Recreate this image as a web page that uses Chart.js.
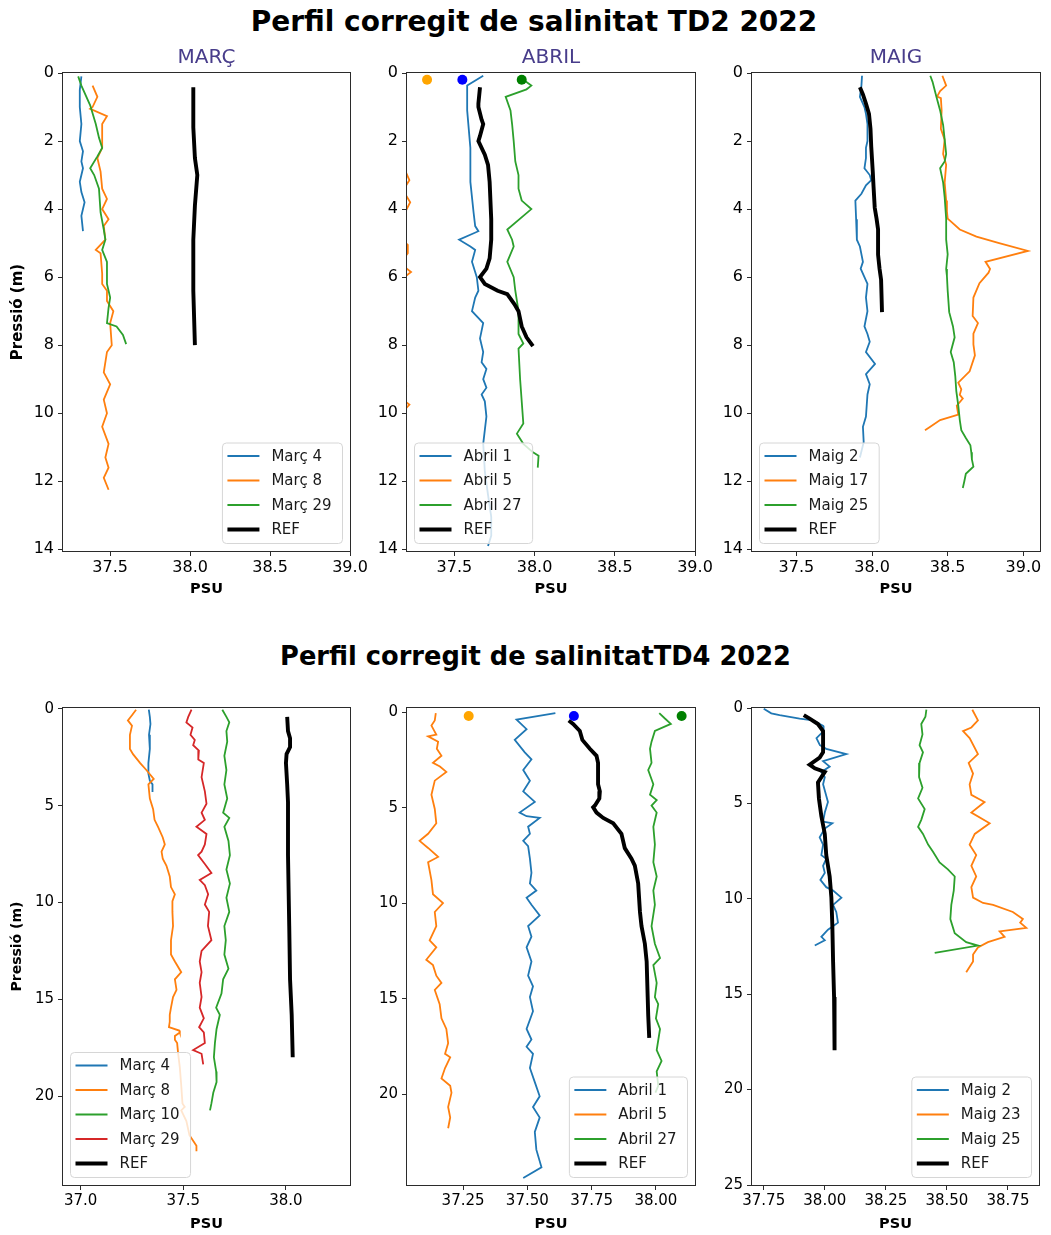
<!DOCTYPE html>
<html>
<head>
<meta charset="utf-8">
<title>Perfil corregit de salinitat 2022</title>
<script src="https://cdn.jsdelivr.net/npm/chart.js@4.4.1/dist/chart.umd.min.js"></script>
<style>
  html, body { margin: 0; padding: 0; background: #fff; }
  body { width: 1051px; height: 1235px; position: relative; overflow: hidden; font-family: "DejaVu Sans", sans-serif; }
  .sup { position: absolute; transform: translateX(-50%); font-weight: bold; color: #000; white-space: nowrap; line-height: normal; }
  canvas { position: absolute; }
</style>
</head>
<body>
<div class="sup" style="left:534px; top:5px; font-size:28px;">Perfil corregit de salinitat TD2 2022</div>
<div class="sup" style="left:535.5px; top:641px; font-size:25.7px;">Perfil corregit de salinitatTD4 2022</div>

<canvas id="p1"></canvas>
<canvas id="p2"></canvas>
<canvas id="p3"></canvas>
<canvas id="p4"></canvas>
<canvas id="p5"></canvas>
<canvas id="p6"></canvas>

<script>
// ---------- tick labels ----------
const td2DepthTicks = [0, 2, 4, 6, 8, 10, 12, 14];
const td2PsuTicks = [37.5, 38.0, 38.5, 39.0];
const td4DepthTicks = [0, 5, 10, 15, 20];
const td4DepthTicksMaig = [0, 5, 10, 15, 20, 25];
const td4MarcPsuTicks = [37.0, 37.5, 38.0];
const td4AbrilPsuTicks = [37.25, 37.50, 37.75, 38.00];
const td4MaigPsuTicks = [37.75, 38.00, 38.25, 38.50, 38.75];

// ---------- series labels ----------
const monthTitles = ['MARÇ', 'ABRIL', 'MAIG'];
const td2MarcLabels = ['Març 4', 'Març 8', 'Març 29', 'REF'];
const td2AbrilLabels = ['Abril 1', 'Abril 5', 'Abril 27', 'REF'];
const td2MaigLabels = ['Maig 2', 'Maig 17', 'Maig 25', 'REF'];
const td4MarcLabels = ['Març 4', 'Març 8', 'Març 10', 'Març 29', 'REF'];
const td4AbrilLabels = ['Abril 1', 'Abril 5', 'Abril 27', 'REF'];
const td4MaigLabels = ['Maig 2', 'Maig 23', 'Maig 25', 'REF'];

// ---------- profiles: [salinity (PSU), pressure (m)] ----------
// TD2 - Març
const td2Marc4 = [[37.32,0.1],[37.31,0.5],[37.31,1.0],[37.32,1.5],[37.31,2.0],[37.33,2.3],[37.32,2.6],[37.33,2.8],[37.31,3.2],[37.32,3.5],[37.34,3.8],[37.32,4.2],[37.33,4.65]];
const td2Marc8 = [[37.39,0.37],[37.42,0.7],[37.39,1.0],[37.375,1.05],[37.48,1.27],[37.45,1.5],[37.45,2.2],[37.42,2.5],[37.44,2.9],[37.45,3.4],[37.48,3.7],[37.45,4.0],[37.49,4.3],[37.46,4.5],[37.47,4.9],[37.41,5.2],[37.44,5.3],[37.45,5.9],[37.45,6.2],[37.48,6.4],[37.48,6.7],[37.52,7.0],[37.5,7.35],[37.51,8.0],[37.48,8.2],[37.46,8.8],[37.5,9.15],[37.46,9.6],[37.48,10.0],[37.45,10.4],[37.49,10.9],[37.47,11.3],[37.49,11.6],[37.46,11.9],[37.49,12.25]];
const td2Marc29 = [[37.30,0.1],[37.32,0.37],[37.375,0.95],[37.41,1.5],[37.43,1.9],[37.45,2.2],[37.42,2.45],[37.375,2.8],[37.40,3.0],[37.43,3.4],[37.44,4.1],[37.46,4.6],[37.47,4.9],[37.45,5.2],[37.48,5.55],[37.48,6.2],[37.5,6.6],[37.49,6.9],[37.48,7.35],[37.54,7.45],[37.58,7.7],[37.6,7.97]];
const td2MarcRef = [[38.02,0.42],[38.02,1.6],[38.03,2.5],[38.045,3.0],[38.03,3.9],[38.02,4.9],[38.02,6.4],[38.03,8.0]];

// TD2 - Abril
const td2Abril1 = [[37.68,0.08],[37.58,0.37],[37.58,1.1],[37.60,2.2],[37.60,3.2],[37.62,4.1],[37.63,4.5],[37.65,4.65],[37.53,4.9],[37.60,5.1],[37.63,5.2],[37.61,5.55],[37.64,6.0],[37.65,6.4],[37.63,6.6],[37.61,7.0],[37.68,7.35],[37.66,7.8],[37.68,8.2],[37.67,8.5],[37.70,8.7],[37.68,9.0],[37.70,9.25],[37.67,9.45],[37.69,9.65],[37.70,10.1],[37.69,10.5],[37.68,10.9],[37.69,11.7],[37.71,12.4],[37.73,13.05],[37.73,13.6],[37.71,13.9]];
const td2Abril5 = [[37.2,0.1],[37.15,0.6],[37.12,1.5],[37.16,2.5],[37.22,3.15],[37.18,3.45],[37.225,3.8],[37.17,4.3],[37.15,4.8],[37.21,5.05],[37.21,5.3],[37.16,5.6],[37.23,5.85],[37.16,6.1],[37.12,7.0],[37.15,8.0],[37.18,8.6],[37.2,9.2],[37.15,9.5],[37.22,9.75],[37.17,10.0]];
const td2Abril27 = [[37.93,0.2],[37.98,0.37],[37.95,0.48],[37.82,0.7],[37.85,1.1],[37.86,1.5],[37.87,2.0],[37.88,2.6],[37.9,3.0],[37.9,3.4],[37.92,3.75],[37.98,4.0],[37.83,4.6],[37.86,4.9],[37.87,5.1],[37.83,5.55],[37.87,6.0],[37.88,6.4],[37.9,7.0],[37.9,7.67],[37.93,7.95],[37.9,8.1],[37.91,9.0],[37.93,10.3],[37.89,10.6],[37.93,10.9],[37.99,11.15],[38.025,11.25],[38.02,11.6]];
const td2AbrilRef = [[37.66,0.42],[37.65,0.9],[37.65,1.0],[37.67,1.37],[37.68,1.5],[37.66,1.85],[37.65,2.0],[37.69,2.4],[37.71,2.7],[37.72,3.2],[37.73,4.3],[37.73,4.9],[37.72,5.45],[37.70,5.75],[37.66,6.0],[37.69,6.2],[37.77,6.4],[37.83,6.5],[37.875,6.8],[37.9,7.0],[37.92,7.45],[37.95,7.77],[37.99,8.03]];
const td2AbrilSurface = [[37.33,0.2],[37.55,0.2],[37.92,0.2]];

// TD2 - Maig
const td2Maig2 = [[37.934,0.08],[37.93,0.37],[37.92,0.7],[37.95,1.0],[37.96,1.2],[37.97,1.5],[37.97,2.0],[37.96,2.2],[37.96,2.5],[37.95,2.8],[37.985,3.0],[37.995,3.15],[37.96,3.3],[37.93,3.55],[37.89,3.75],[37.895,4.3],[37.9,4.9],[37.92,5.1],[37.94,5.55],[37.925,5.75],[37.95,6.0],[37.97,6.2],[37.96,6.6],[37.97,7.0],[37.95,7.45],[37.97,7.67],[37.985,7.9],[37.96,8.2],[38.02,8.55],[37.96,8.85],[37.985,9.15],[37.97,9.45],[37.96,10.1],[37.94,10.4],[37.945,10.85],[37.92,11.3]];
const td2Maig17 = [[38.465,0.08],[38.49,0.37],[38.45,0.53],[38.43,0.69],[38.455,0.74],[38.46,1.1],[38.455,1.64],[38.48,1.96],[38.47,2.38],[38.49,2.7],[38.48,3.22],[38.49,3.75],[38.495,4.07],[38.5,4.28],[38.58,4.6],[38.69,4.81],[38.84,5.0],[39.03,5.23],[38.75,5.55],[38.78,5.76],[38.77,5.87],[38.71,6.18],[38.67,6.6],[38.665,7.14],[38.70,7.35],[38.67,7.66],[38.67,7.98],[38.68,8.3],[38.645,8.77],[38.57,9.1],[38.59,9.3],[38.58,9.46],[38.6,9.57],[38.56,9.78],[38.57,10.04],[38.45,10.2],[38.38,10.41],[38.35,10.5]];
const td2Maig25 = [[38.385,0.08],[38.40,0.26],[38.425,0.69],[38.45,1.1],[38.47,1.53],[38.48,1.96],[38.49,2.38],[38.48,2.6],[38.45,2.8],[38.47,3.22],[38.48,3.65],[38.49,4.28],[38.49,4.9],[38.5,5.33],[38.49,5.76],[38.495,5.97],[38.5,6.4],[38.51,7.03],[38.535,7.45],[38.546,7.77],[38.52,8.2],[38.54,8.5],[38.55,8.9],[38.557,9.35],[38.57,9.78],[38.58,10.2],[38.59,10.5],[38.62,10.73],[38.65,10.94],[38.656,11.15],[38.66,11.36],[38.67,11.57],[38.62,11.78],[38.61,12.0],[38.6,12.2]];
const td2MaigRef = [[37.92,0.42],[37.94,0.63],[37.96,0.9],[37.98,1.2],[37.99,1.64],[37.995,2.17],[38.005,2.9],[38.01,3.33],[38.018,3.96],[38.03,4.28],[38.04,4.6],[38.04,5.34],[38.05,5.76],[38.06,6.08],[38.066,7.03]];

// TD4 - Març
const td4Marc4 = [[37.332,0.05],[37.337,0.42],[37.34,0.79],[37.333,1.34],[37.337,2.07],[37.33,2.8],[37.33,3.35],[37.337,3.71],[37.35,3.9],[37.35,4.3]];
const td4Marc8 = [[37.27,0.05],[37.25,0.33],[37.23,0.6],[37.25,0.88],[37.24,1.34],[37.24,2.07],[37.255,2.34],[37.29,2.8],[37.32,3.16],[37.356,3.62],[37.33,3.9],[37.337,4.63],[37.353,5.18],[37.36,5.73],[37.377,6.09],[37.4,6.64],[37.41,7.0],[37.394,7.37],[37.4,7.74],[37.418,8.1],[37.434,8.65],[37.44,9.2],[37.459,9.57],[37.447,9.93],[37.447,10.48],[37.45,11.21],[37.44,11.94],[37.44,12.68],[37.459,13.04],[37.49,13.59],[37.459,13.96],[37.467,14.5],[37.45,14.87],[37.44,15.42],[37.434,15.79],[37.434,16.15],[37.43,16.43],[37.48,16.6],[37.483,16.7],[37.459,16.88],[37.459,17.07],[37.47,17.25],[37.475,17.8],[37.483,18.5],[37.49,19.44],[37.496,20.36],[37.507,20.54],[37.49,20.72],[37.515,21.27],[37.53,22.0],[37.564,22.55],[37.564,22.83]];
const td4Marc10 = [[37.69,0.05],[37.71,0.42],[37.724,0.7],[37.71,1.15],[37.714,1.7],[37.70,2.43],[37.71,3.16],[37.70,3.9],[37.714,4.63],[37.694,5.36],[37.724,5.63],[37.7,6.09],[37.72,6.82],[37.727,7.55],[37.71,8.29],[37.727,9.02],[37.71,9.75],[37.724,10.48],[37.70,11.21],[37.707,11.94],[37.7,12.68],[37.72,13.41],[37.694,13.96],[37.686,14.69],[37.66,15.42],[37.678,15.79],[37.662,16.52],[37.654,17.25],[37.649,17.98],[37.66,18.71],[37.662,19.26],[37.646,19.81],[37.637,20.36],[37.63,20.72]];
const td4Marc29 = [[37.54,0.05],[37.524,0.42],[37.515,0.7],[37.545,0.97],[37.535,1.34],[37.556,1.61],[37.548,1.88],[37.576,2.16],[37.573,2.62],[37.6,2.8],[37.589,3.53],[37.605,4.26],[37.613,4.9],[37.589,5.36],[37.605,5.73],[37.564,6.09],[37.613,6.46],[37.605,7.0],[37.589,7.37],[37.572,7.55],[37.605,8.01],[37.637,8.47],[37.58,8.83],[37.605,9.1],[37.621,9.57],[37.605,10.1],[37.626,10.48],[37.62,11.21],[37.637,11.94],[37.589,12.49],[37.58,13.04],[37.589,13.59],[37.58,14.14],[37.589,14.87],[37.58,15.42],[37.6,15.97],[37.577,16.43],[37.6,16.7],[37.605,17.25],[37.548,17.61],[37.589,17.8],[37.597,18.35]];
const td4MarcRef = [[38.006,0.42],[38.01,1.15],[38.02,1.52],[38.02,1.98],[38.003,2.34],[38.0,2.8],[38.006,3.9],[38.01,4.81],[38.01,7.55],[38.016,11.21],[38.02,13.96],[38.028,15.79],[38.033,17.98]];

// TD4 - Abril
const td4Abril1 = [[37.609,0.05],[37.458,0.39],[37.497,0.89],[37.451,1.45],[37.49,2.1],[37.516,2.47],[37.484,3.02],[37.51,3.58],[37.484,4.14],[37.529,4.69],[37.47,5.25],[37.497,5.44],[37.548,5.53],[37.503,5.99],[37.51,6.36],[37.484,6.73],[37.503,7.01],[37.51,7.66],[37.516,8.4],[37.51,8.96],[37.535,9.33],[37.497,9.7],[37.516,10.07],[37.548,10.63],[37.503,11.19],[37.516,11.74],[37.497,12.3],[37.516,13.04],[37.503,13.78],[37.522,14.34],[37.51,14.9],[37.522,15.64],[37.497,16.57],[37.516,17.12],[37.497,17.5],[37.522,17.87],[37.51,18.61],[37.529,19.35],[37.548,20.09],[37.522,20.65],[37.548,21.2],[37.529,21.95],[37.535,22.88],[37.555,23.8],[37.484,24.36]];
const td4Abril5 = [[37.144,0.05],[37.14,0.43],[37.127,0.7],[37.146,1.17],[37.114,1.26],[37.153,1.54],[37.148,1.91],[37.166,2.28],[37.133,2.65],[37.16,2.84],[37.185,3.12],[37.14,3.58],[37.127,4.32],[37.14,5.06],[37.146,5.81],[37.114,6.36],[37.081,6.73],[37.114,7.1],[37.153,7.57],[37.114,7.85],[37.127,8.78],[37.133,9.52],[37.172,9.98],[37.14,10.45],[37.146,11.19],[37.12,11.93],[37.146,12.3],[37.107,12.95],[37.133,13.23],[37.146,13.78],[37.166,14.16],[37.14,14.53],[37.159,15.27],[37.166,16.01],[37.185,16.57],[37.192,17.31],[37.18,17.87],[37.2,18.05],[37.18,18.61],[37.166,19.16],[37.2,19.54],[37.205,19.91],[37.192,20.65],[37.2,21.2],[37.192,21.76]];
const td4Abril27 = [[38.013,0.05],[38.035,0.33],[38.058,0.61],[37.996,0.98],[37.983,1.54],[37.977,1.91],[37.983,2.65],[37.97,3.02],[37.99,3.77],[37.977,4.32],[38.003,4.6],[37.983,4.88],[38.003,5.25],[37.99,5.99],[37.996,6.92],[37.99,7.85],[38.003,8.59],[37.99,9.33],[37.996,10.07],[37.983,11.19],[37.996,12.11],[38.016,12.86],[37.99,13.23],[38.003,14.16],[37.996,14.9],[38.009,15.27],[38.0,16.01],[38.016,16.57],[38.003,17.68],[38.022,18.24],[38.003,18.79],[38.009,19.54],[37.998,19.9]];
const td4AbrilRef = [[37.661,0.43],[37.678,0.61],[37.704,0.98],[37.714,1.45],[37.743,1.91],[37.769,2.28],[37.775,2.65],[37.775,3.77],[37.782,4.14],[37.78,4.51],[37.763,4.88],[37.756,4.97],[37.769,5.25],[37.795,5.53],[37.834,5.81],[37.866,6.36],[37.879,7.11],[37.905,7.66],[37.918,8.03],[37.931,8.96],[37.938,10.45],[37.944,11.19],[37.957,12.11],[37.964,13.04],[37.968,14.9],[37.97,15.83],[37.974,17.03]];
const td4AbrilSurface = [[37.272,0.2],[37.681,0.2],[38.10,0.2]];

// TD4 - Maig
const td4Maig2 = [[37.75,0.04],[37.781,0.28],[37.815,0.37],[37.897,0.56],[37.952,0.65],[37.993,0.93],[37.995,1.21],[37.966,1.58],[37.98,1.95],[38.006,2.14],[38.088,2.42],[37.993,2.79],[38.02,3.07],[37.986,3.35],[38.0,3.62],[37.993,4.0],[38.013,4.93],[38.0,5.48],[37.993,5.95],[38.031,6.04],[38.0,6.32],[37.979,6.78],[37.993,7.16],[37.986,7.71],[38.006,7.9],[37.993,8.27],[38.0,8.64],[37.982,9.01],[38.006,9.39],[38.034,9.57],[38.068,9.94],[38.034,10.32],[38.047,10.69],[38.054,11.25],[38.013,11.62],[37.986,11.99],[38.0,12.17],[37.959,12.45]];
const td4Maig23 = [[38.604,0.09],[38.627,0.65],[38.6,1.02],[38.566,1.21],[38.593,1.58],[38.627,2.42],[38.589,2.88],[38.607,3.44],[38.593,4.0],[38.6,4.55],[38.654,4.93],[38.6,5.48],[38.675,6.04],[38.614,6.6],[38.593,7.16],[38.62,7.71],[38.6,8.27],[38.62,8.83],[38.6,9.39],[38.607,9.94],[38.648,10.22],[38.689,10.32],[38.77,10.69],[38.811,11.06],[38.8,11.25],[38.825,11.52],[38.716,11.71],[38.736,11.99],[38.668,12.27],[38.627,12.55],[38.607,12.92],[38.607,13.29],[38.579,13.85]];
const td4Maig25 = [[38.416,0.09],[38.412,0.46],[38.395,0.84],[38.4,1.39],[38.388,1.95],[38.402,2.32],[38.388,2.88],[38.386,3.62],[38.4,4.18],[38.382,4.74],[38.409,5.3],[38.395,5.86],[38.382,6.23],[38.402,6.6],[38.423,7.16],[38.443,7.53],[38.47,8.09],[38.504,8.46],[38.532,8.83],[38.528,9.57],[38.518,10.32],[38.514,11.06],[38.532,11.8],[38.579,12.27],[38.627,12.45],[38.45,12.83]];
const td4MaigRef = [[37.914,0.37],[37.938,0.56],[37.972,0.84],[37.993,1.21],[37.993,2.32],[37.979,2.6],[37.938,2.97],[37.959,3.16],[38.0,3.35],[37.972,3.9],[37.976,4.74],[37.986,5.67],[38.0,6.6],[38.006,7.71],[38.02,8.83],[38.027,9.94],[38.031,11.43],[38.034,13.29],[38.038,15.15],[38.04,17.94]];

// ---------- drawing ----------
Chart.defaults.font.family = '"DejaVu Sans", sans-serif';
Chart.defaults.color = '#000';

const C_BLUE = '#1f77b4', C_ORANGE = '#ff7f0e', C_GREEN = '#2ca02c', C_RED = '#d62728';
const AXIS = '#2b2b2b';

// closed box around the plotting area
const framePlugin = {
  id: 'frame',
  afterDraw(chart) {
    const { ctx, chartArea: a } = chart;
    ctx.save();
    ctx.strokeStyle = AXIS;
    ctx.lineWidth = 1;
    ctx.strokeRect(Math.round(a.left) - 0.5, Math.round(a.top) - 0.5,
                   Math.round(a.right - a.left) + 1, Math.round(a.bottom - a.top) + 1);
    ctx.restore();
  }
};

// legend box placed inside a lower corner of the plotting area
const boxLegend = {
  id: 'boxLegend',
  afterDatasetsDraw(chart, args, o) {
    if (!o || !o.corner) return;
    const ctx = chart.ctx, a = chart.chartArea;
    const items = chart.data.datasets.filter(d => d.label);
    ctx.save();
    ctx.font = o.fontSize + 'px "DejaVu Sans"';
    const textW = Math.max(...items.map(d => ctx.measureText(d.label).width));
    const w = o.textX + textW + o.padR;
    const h = o.padT + (items.length - 1) * o.row + o.padB;
    const x = o.corner === 'right' ? a.right - o.margin - w : a.left + o.margin;
    const y = a.bottom - o.margin - h;
    const r = 4;
    ctx.beginPath();
    ctx.moveTo(x + r, y);
    ctx.arcTo(x + w, y, x + w, y + h, r);
    ctx.arcTo(x + w, y + h, x, y + h, r);
    ctx.arcTo(x, y + h, x, y, r);
    ctx.arcTo(x, y, x + w, y, r);
    ctx.closePath();
    ctx.fillStyle = 'rgba(255,255,255,0.8)';
    ctx.fill();
    ctx.strokeStyle = '#d6d6d6';
    ctx.lineWidth = 1;
    ctx.stroke();
    items.forEach((d, i) => {
      const cy = y + o.padT + i * o.row;
      ctx.beginPath();
      ctx.moveTo(x + o.lineX0, cy);
      ctx.lineTo(x + o.lineX1, cy);
      ctx.strokeStyle = d.borderColor;
      ctx.lineWidth = d.borderWidth;
      ctx.stroke();
      ctx.fillStyle = '#1a1a1a';
      ctx.textBaseline = 'middle';
      ctx.textAlign = 'left';
      ctx.fillText(d.label, x + o.textX, cy + 1);
    });
    ctx.restore();
  }
};

function profile(label, pts, color, width) {
  return {
    label: label,
    data: pts.map(p => ({ x: p[0], y: p[1] })),
    borderColor: color,
    backgroundColor: color,
    borderWidth: width,
    pointRadius: 0,
    tension: 0,
    fill: false
  };
}

function surfaceDots(pts, colors) {
  return {
    data: pts.map(p => ({ x: p[0], y: p[1] })),
    showLine: false,
    pointRadius: 5,
    pointBorderWidth: 0,
    pointBackgroundColor: colors,
    borderColor: 'rgba(0,0,0,0)'
  };
}

function panel(cfg) {
  const padL = 63, padR = 25, axisH = cfg.axisH;
  const canvas = document.getElementById(cfg.id);
  const topSpace = cfg.plotTop - cfg.canvasTop;
  canvas.width = padL + cfg.plotW + padR;
  canvas.height = topSpace + cfg.plotH + axisH;
  canvas.style.left = (cfg.plotLeft - padL) + 'px';
  canvas.style.top = cfg.canvasTop + 'px';

  const n = cfg.datasets.length;
  cfg.datasets.forEach((d, i) => { d.order = n - i; });

  const tickGrid = { display: true, drawOnChartArea: false, drawTicks: true, tickLength: 5, tickColor: AXIS, tickWidth: 1 };

  new Chart(canvas, {
    type: 'line',
    data: { datasets: cfg.datasets },
    plugins: [framePlugin, boxLegend],
    options: {
      responsive: false,
      animation: false,
      devicePixelRatio: 1,
      layout: { padding: { left: 0, right: padR, top: cfg.title ? 0 : topSpace, bottom: 0 } },
      plugins: {
        legend: { display: false },
        tooltip: { enabled: false },
        title: cfg.title ? {
          display: true, fullSize: false, text: cfg.title, color: '#483d8b',
          font: { size: 20, weight: 'normal' },
          padding: { top: cfg.titlePadTop, bottom: topSpace - cfg.titlePadTop - 24 }
        } : { display: false },
        boxLegend: Object.assign({ corner: cfg.legendCorner, fontSize: 15, margin: 7.5, padT: 13, row: 24.5, padB: 14, lineX0: 5, lineX1: 37, textX: 49, padR: 11 }, cfg.legendOpts || {})
      },
      scales: {
        x: {
          type: 'linear', position: 'bottom',
          min: cfg.xMin, max: cfg.xMax,
          afterBuildTicks: s => { s.ticks = cfg.xTicks.map(v => ({ value: v })); },
          afterFit: s => { s.height = axisH; s.paddingLeft = 0; s.paddingRight = 0; },
          grid: tickGrid,
          border: { display: false },
          ticks: { font: { size: cfg.tickSize }, color: '#000', padding: 2, maxRotation: 0, autoSkip: false,
                   callback: v => Number(v).toFixed(cfg.xDec) },
          title: { display: true, text: 'PSU', color: '#000', font: { size: 14.5, weight: 'bold' }, padding: { top: 0, bottom: 0 } }
        },
        y: {
          type: 'linear', reverse: true,
          min: cfg.yMin, max: cfg.yMax,
          afterBuildTicks: s => { s.ticks = cfg.yTicks.map(v => ({ value: v })); },
          afterFit: s => { s.width = padL; s.paddingTop = 0; s.paddingBottom = 0; },
          grid: tickGrid,
          border: { display: false },
          ticks: { font: { size: cfg.tickSize }, color: '#000', padding: 4, autoSkip: false,
                   callback: v => String(v) },
          title: { display: !!cfg.yTitle, text: 'Pressió (m)', color: '#000',
                   font: { size: cfg.yTitleSize || 15, weight: 'bold' }, padding: { top: 9, bottom: 0 } }
        }
      }
    }
  });
}

const LW = 1.8, LW_REF = 3.9;

// TD2 row
panel({ id: 'p1', plotLeft: 63, plotTop: 73, plotW: 287, plotH: 478, canvasTop: 40, titlePadTop: 6, axisH: 47,
  title: monthTitles[0], yTitle: true, legendCorner: 'right',
  xMin: 37.205, xMax: 39.0, yMin: 0, yMax: 14.05, xTicks: td2PsuTicks, yTicks: td2DepthTicks, xDec: 1, tickSize: 16,
  datasets: [
    profile(td2MarcLabels[0], td2Marc4, C_BLUE, LW),
    profile(td2MarcLabels[1], td2Marc8, C_ORANGE, LW),
    profile(td2MarcLabels[2], td2Marc29, C_GREEN, LW),
    profile(td2MarcLabels[3], td2MarcRef, '#000', LW_REF)
  ] });

panel({ id: 'p2', plotLeft: 407, plotTop: 73, plotW: 288, plotH: 478, canvasTop: 40, titlePadTop: 6, axisH: 47,
  title: monthTitles[1], legendCorner: 'left',
  xMin: 37.205, xMax: 39.0, yMin: 0, yMax: 14.05, xTicks: td2PsuTicks, yTicks: td2DepthTicks, xDec: 1, tickSize: 16,
  datasets: [
    profile(td2AbrilLabels[0], td2Abril1, C_BLUE, LW),
    profile(td2AbrilLabels[1], td2Abril5, C_ORANGE, LW),
    profile(td2AbrilLabels[2], td2Abril27, C_GREEN, LW),
    profile(td2AbrilLabels[3], td2AbrilRef, '#000', LW_REF),
    surfaceDots(td2AbrilSurface, ['orange', 'blue', 'green'])
  ] });

panel({ id: 'p3', plotLeft: 752, plotTop: 73, plotW: 288, plotH: 478, canvasTop: 40, titlePadTop: 6, axisH: 47,
  title: monthTitles[2], legendCorner: 'left',
  xMin: 37.207, xMax: 39.11, yMin: 0, yMax: 14.05, xTicks: td2PsuTicks, yTicks: td2DepthTicks, xDec: 1, tickSize: 16,
  datasets: [
    profile(td2MaigLabels[0], td2Maig2, C_BLUE, LW),
    profile(td2MaigLabels[1], td2Maig17, C_ORANGE, LW),
    profile(td2MaigLabels[2], td2Maig25, C_GREEN, LW),
    profile(td2MaigLabels[3], td2MaigRef, '#000', LW_REF)
  ] });

// TD4 row
panel({ id: 'p4', plotLeft: 63, plotTop: 708, plotW: 287, plotH: 477, canvasTop: 690, axisH: 48,
  yTitle: true, yTitleSize: 14, legendCorner: 'left',
  xMin: 36.914, xMax: 38.312, yMin: -0.04, yMax: 24.57, xTicks: td4MarcPsuTicks, yTicks: td4DepthTicks, xDec: 1, tickSize: 15,
  datasets: [
    profile(td4MarcLabels[0], td4Marc4, C_BLUE, LW),
    profile(td4MarcLabels[1], td4Marc8, C_ORANGE, LW),
    profile(td4MarcLabels[2], td4Marc10, C_GREEN, LW),
    profile(td4MarcLabels[3], td4Marc29, C_RED, LW),
    profile(td4MarcLabels[4], td4MarcRef, '#000', LW_REF)
  ] });

panel({ id: 'p5', plotLeft: 407, plotTop: 708, plotW: 288, plotH: 477, canvasTop: 690, axisH: 48,
  legendCorner: 'right',
  xMin: 37.032, xMax: 38.152, yMin: -0.22, yMax: 24.73, xTicks: td4AbrilPsuTicks, yTicks: td4DepthTicks, xDec: 2, tickSize: 15,
  datasets: [
    profile(td4AbrilLabels[0], td4Abril1, C_BLUE, LW),
    profile(td4AbrilLabels[1], td4Abril5, C_ORANGE, LW),
    profile(td4AbrilLabels[2], td4Abril27, C_GREEN, LW),
    profile(td4AbrilLabels[3], td4AbrilRef, '#000', LW_REF),
    surfaceDots(td4AbrilSurface, ['orange', 'blue', 'green'])
  ] });

panel({ id: 'p6', plotLeft: 752, plotTop: 708, plotW: 287, plotH: 477, canvasTop: 690, axisH: 48,
  legendCorner: 'right',
  xMin: 37.702, xMax: 38.877, yMin: 0, yMax: 25, xTicks: td4MaigPsuTicks, yTicks: td4DepthTicksMaig, xDec: 2, tickSize: 15,
  datasets: [
    profile(td4MaigLabels[0], td4Maig2, C_BLUE, LW),
    profile(td4MaigLabels[1], td4Maig23, C_ORANGE, LW),
    profile(td4MaigLabels[2], td4Maig25, C_GREEN, LW),
    profile(td4MaigLabels[3], td4MaigRef, '#000', LW_REF)
  ] });
</script>
</body>
</html>
